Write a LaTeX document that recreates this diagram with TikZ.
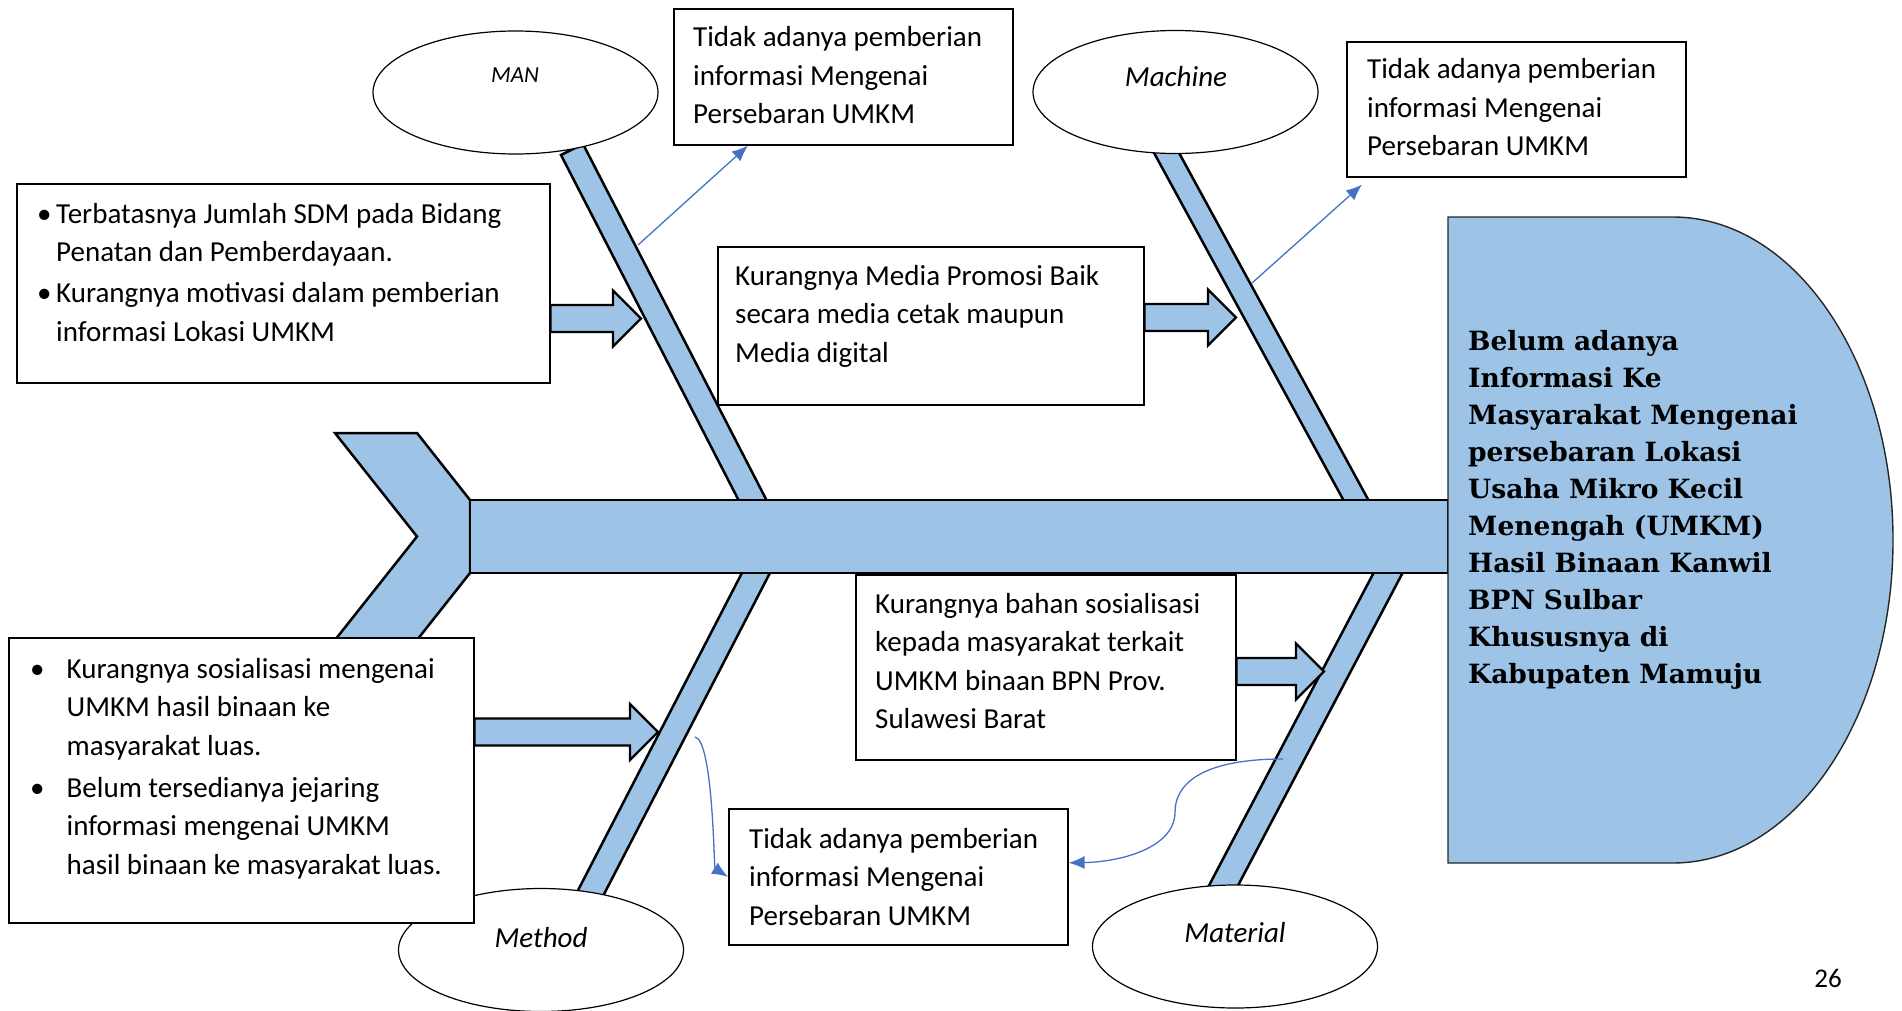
\documentclass[tikz,border=0pt]{standalone}
\usepackage{fontspec}
\setmainfont{Carlito}
\newfontfamily\headfont{DejaVu Serif}
\usetikzlibrary{arrows.meta,shapes.geometric,calc}
\definecolor{fishblue}{RGB}{157,195,230}
\definecolor{linkblue}{RGB}{68,114,196}
\newcommand{\bodyfont}{\fontsize{29}{38.5}\selectfont}
% fat arrow from a box to a point on a bone
\newcommand{\blockarr}[2]{%
  \filldraw[fish,line width=2.2pt]
    ($(#1.east |- #2)+(0,-13.5)$) -- ($(#2)+(-28,-13.5)$) -- ($(#2)+(-28,-28)$) -- (#2)
    -- ($(#2)+(-28,28)$) -- ($(#2)+(-28,13.5)$) -- ($(#1.east |- #2)+(0,13.5)$) -- cycle;}

\begin{document}
\begin{tikzpicture}[x=1pt,y=1pt,yscale=-1,
   fish/.style={fill=fishblue,draw=black,line width=2.5pt,line join=miter},
   box/.style={draw=black,line width=1.6pt,fill=white,inner sep=0pt,anchor=north west},
   oval/.style={ellipse,draw=black,line width=1.2pt,fill=white,minimum width=285pt,minimum height=123pt,inner sep=0pt},
   txt/.style={anchor=base west,inner sep=0pt,font=\bodyfont},
   lbl/.style={anchor=base,inner sep=0pt,font=\bodyfont\itshape},
   link/.style={draw=linkblue,line width=1.3pt,-{Latex[length=16pt,width=13pt]}}]
   \useasboundingbox (0,0) rectangle (1902,1011);

   % tail, bones and spine
   \filldraw[fish] (335,433) -- (417,433) -- (470,500) -- (470,573) -- (417,640) -- (335,640) -- (417,536.5) -- cycle;
   \filldraw[fish] (561,155) -- (583,144) -- (785,536) -- (757,536) -- cycle;
   \filldraw[fish] (1147,140) -- (1172,140) -- (1388,536) -- (1363,536) -- cycle;
   \filldraw[fish] (761,536) -- (789,536) -- (601,900) -- (573,900) -- cycle;
   \filldraw[fish] (1393,536) -- (1422,536) -- (1233,895) -- (1204,895) -- cycle;
   \filldraw[fish] (470,500) rectangle (1448,573);

   % categories
   \node[oval] (man) at (515.5,92.5) {};
   \node[oval] (machine) at (1175.5,92) {};
   \node[oval] (method) at (541,950) {};
   \node[oval] (material) at (1235,946.5) {};
   \node[lbl,font=\fontsize{23}{28}\selectfont\itshape] (mantxt) at (515,83) {MAN};
   \node[lbl] (machinetxt) at (1176,87) {Machine};
   \node[lbl] (methodtxt) at (541,947) {Method};
   \node[lbl] (materialtxt) at (1235,942) {Material};

   % head
   \filldraw[fill=fishblue,draw=black!85,line width=1.4pt] (1448,217) -- (1673,217)
      arc[start angle=-90,end angle=90,x radius=220,y radius=323] -- (1448,863) -- cycle;
   \node[anchor=base west,inner sep=0pt,font=\headfont\bfseries\fontsize{26.5}{37}\selectfont] (headtxt) at (1468,350)
      {\parbox[t]{420pt}{\raggedright Belum adanya\\Informasi Ke\\Masyarakat Mengenai\\persebaran Lokasi\\Usaha Mikro Kecil\\Menengah (UMKM)\\Hasil Binaan Kanwil\\BPN Sulbar\\Khususnya di\\Kabupaten Mamuju}};

   % boxes
   \node[box,minimum width=533pt,minimum height=199pt] (manbox) at (16,183) {};
   \node[txt] (mantext) at (37,223) {\parbox[t]{500pt}{%
      \hangindent=19pt\hangafter=1\makebox[19pt][l]{\textbullet}Terbatasnya Jumlah SDM pada Bidang\newline Penatan dan Pemberdayaan.\par\vspace{2.5pt}
      \hangindent=19pt\hangafter=1\makebox[19pt][l]{\textbullet}Kurangnya motivasi dalam pemberian\newline informasi Lokasi UMKM}};
   \node[box,minimum width=339pt,minimum height=136pt] (manfx) at (673,8) {};
   \node[txt] (manfxtxt) at (693,47) {\parbox[t]{320pt}{\raggedright Tidak adanya pemberian\\informasi Mengenai\\Persebaran UMKM}};
   \node[box,minimum width=426pt,minimum height=158pt] (machbox) at (717,246) {};
   \node[txt] (machtext) at (735,285) {\parbox[t]{400pt}{\raggedright Kurangnya Media Promosi Baik\\secara media cetak maupun\\Media digital}};
   \node[box,minimum width=339pt,minimum height=135pt] (machfx) at (1346,41) {};
   \node[txt] (machfxtxt) at (1367,79) {\parbox[t]{320pt}{\raggedright Tidak adanya pemberian\\informasi Mengenai\\Persebaran UMKM}};
   \node[box,minimum width=465pt,minimum height=285pt] (methbox) at (8,637) {};
   \node[txt] (methtext) at (30,678) {\parbox[t]{440pt}{%
      \hangindent=36.5pt\hangafter=1\makebox[36.5pt][l]{\textbullet}Kurangnya sosialisasi mengenai\newline UMKM hasil binaan ke\newline masyarakat luas.\par\vspace{3.5pt}
      \hangindent=36.5pt\hangafter=1\makebox[36.5pt][l]{\textbullet}Belum tersedianya jejaring\newline informasi mengenai UMKM\newline hasil binaan ke masyarakat luas.}};
   \node[box,minimum width=339pt,minimum height=136pt] (methfx) at (728,808) {};
   \node[txt] (methfxtxt) at (749,848) {\parbox[t]{320pt}{\raggedright Tidak adanya pemberian\\informasi Mengenai\\Persebaran UMKM}};
   \node[box,minimum width=380pt,minimum height=185pt] (matbox) at (855,574) {};
   \node[txt] (mattext) at (875,613) {\parbox[t]{360pt}{\raggedright Kurangnya bahan sosialisasi\\kepada masyarakat terkait\\UMKM binaan BPN Prov.\\Sulawesi Barat}};

   % fat arrows into the bones
   \coordinate (t1) at (641,318.5);
   \coordinate (t2) at (1236,317.5);
   \coordinate (t3) at (658,732);
   \coordinate (t4) at (1324,671.5);
   \blockarr{manbox}{t1}
   \blockarr{machbox}{t2}
   \blockarr{methbox}{t3}
   \blockarr{matbox}{t4}

   % effects
   \coordinate (b1) at (638,245);
   \coordinate (b2) at (1252,283);
   \coordinate (b3) at (695,737);
   \coordinate (b4) at (1283,759);
   \draw[link] (b1) -- ($(manfx.south west)+(75,0)$);
   \draw[link] (b2) -- ($(machfx.south west)+(16,7)$);
   \draw[link] (b3) .. controls (713,740) and (714,868) .. (methfx.west);
   \draw[link] (b4) .. controls (1200,759) and (1175,785) .. (1175,812)
      .. controls (1175,848) and (1120,862) .. ($(methfx.east)+(0,-14)$);

   \node[anchor=base,inner sep=0pt,font=\fontsize{27}{32}\selectfont] (page) at (1828,987) {26};
\end{tikzpicture}
\end{document}
